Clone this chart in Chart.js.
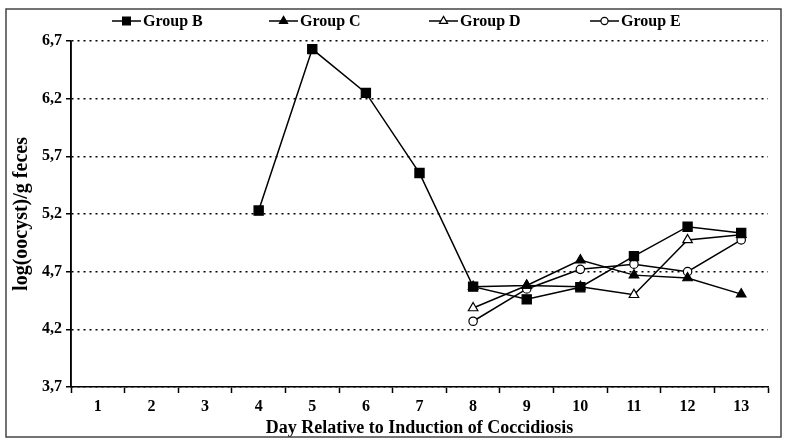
<!DOCTYPE html>
<html>
<head>
<meta charset="utf-8">
<script src="https://cdn.jsdelivr.net/npm/chart.js@4"></script>
<style>
  html, body { margin: 0; padding: 0; background: #fff; }
  #wrap { width: 786px; height: 443px; position: relative; }
</style>
</head>
<body>
<div id="wrap"><canvas id="c" width="786" height="443"></canvas></div>
<script>
const days = ['1','2','3','4','5','6','7','8','9','10','11','12','13'];
const groupB = [null, null, null, 5.23, 6.63, 6.25, 5.555, 4.57, 4.46, 4.565, 4.835, 5.09, 5.035];
const groupC = [null, null, null, null, null, null, null, 4.57, 4.58, 4.80, 4.67, 4.645, 4.505];
const groupD = [null, null, null, null, null, null, null, 4.385, 4.58, 4.57, 4.50, 4.975, 5.02];
const groupE = [null, null, null, null, null, null, null, 4.27, 4.55, 4.72, 4.765, 4.70, 4.975];
const seriesNames = ['Group B', 'Group C', 'Group D', 'Group E'];
const yTicks = [3.7, 4.2, 4.7, 5.2, 5.7, 6.2, 6.7];

const FONT = '"Liberation Serif", "Times New Roman", serif';

const styles = [
  { pointStyle: 'rect', radius: 6.5, fill: '#000' },
  { pointStyle: 'triangle', radius: 5.5, fill: '#000' },
  { pointStyle: 'triangle', radius: 5.5, fill: '#fff' },
  { pointStyle: 'circle', radius: 4.2, fill: '#fff' }
];
const values = [groupB, groupC, groupD, groupE];

const datasets = values.map((v, i) => ({
  label: seriesNames[i],
  data: v,
  borderColor: '#000',
  borderWidth: 1.5,
  pointStyle: styles[i].pointStyle,
  pointRadius: styles[i].radius,
  pointHoverRadius: styles[i].radius,
  pointBackgroundColor: styles[i].fill,
  pointBorderColor: '#000',
  pointBorderWidth: 1.2,
  tension: 0,
  spanGaps: false,
  fill: false
}));

const solidYAxis = {
  id: 'solidYAxis',
  beforeDatasetsDraw(chart) {
    const ctx = chart.ctx;
    const a = chart.chartArea;
    ctx.save();
    ctx.setLineDash([]);
    ctx.strokeStyle = '#000';
    ctx.lineWidth = 1.5;
    ctx.beginPath();
    ctx.moveTo(a.left, a.top);
    ctx.lineTo(a.left, a.bottom);
    ctx.stroke();
    ctx.restore();
  }
};

const frameAndLegend = {
  id: 'frameAndLegend',
  afterDraw(chart) {
    const ctx = chart.ctx;
    ctx.save();
    // outer frame
    ctx.strokeStyle = '#444';
    ctx.lineWidth = 1.5;
    ctx.strokeRect(6, 9, 775, 428);
    // legend
    const starts = [112, 269, 429, 590];
    const ly = 21;
    ctx.font = 'bold 16px ' + FONT;
    ctx.textBaseline = 'middle';
    ctx.textAlign = 'left';
    chart.data.datasets.forEach((ds, i) => {
      const x0 = starts[i];
      ctx.strokeStyle = '#000';
      ctx.lineWidth = 1.5;
      ctx.beginPath();
      ctx.moveTo(x0, ly);
      ctx.lineTo(x0 + 29, ly);
      ctx.stroke();
      ctx.fillStyle = ds.pointBackgroundColor;
      ctx.strokeStyle = '#000';
      ctx.lineWidth = 1.2;
      Chart.helpers.drawPoint(ctx, {
        pointStyle: ds.pointStyle,
        radius: ds.pointRadius * 0.85,
        rotation: 0,
        borderWidth: 1.2
      }, x0 + 14.5, ly);
      ctx.fillStyle = '#000';
      ctx.fillText(ds.label, x0 + 31, ly + 1);
    });
    ctx.restore();
  }
};

new Chart(document.getElementById('c'), {
  type: 'line',
  data: { labels: days, datasets },
  plugins: [solidYAxis, frameAndLegend],
  options: {
    responsive: false,
    animation: false,
    devicePixelRatio: 1,
    layout: { padding: { top: 41, right: 18, bottom: 4, left: 5 } },
    plugins: {
      legend: { display: false },
      tooltip: { enabled: false }
    },
    scales: {
      x: {
        type: 'category',
        offset: true,
        afterFit(s) { s.height = 52; },
        border: { display: true, color: '#000', width: 1.5 },
        grid: {
          offset: true,
          drawOnChartArea: false,
          drawTicks: true,
          tickLength: 6,
          tickColor: '#000',
          tickWidth: 1.5
        },
        ticks: {
          color: '#000',
          font: { family: FONT, size: 16, weight: 'bold' },
          padding: 4,
          maxRotation: 0,
          autoSkip: false
        },
        title: {
          display: true,
          text: 'Day Relative to Induction of Coccidiosis',
          color: '#000',
          font: { family: FONT, size: 18, weight: 'bold' },
          padding: { top: 0, bottom: 0 }
        }
      },
      y: {
        min: 3.7,
        max: 6.7,
        afterFit(s) { s.width = 66; },
        afterBuildTicks(s) { s.ticks = yTicks.map(v => ({ value: v })); },
        border: { display: true, color: '#000', width: 1.5, dash: [2, 4] },
        grid: {
          color: '#000',
          lineWidth: 1.5,
          drawTicks: true,
          tickLength: 5,
          tickBorderDash: [],
          tickColor: '#000',
          tickWidth: 1.5
        },
        ticks: {
          color: '#000',
          font: { family: FONT, size: 16, weight: 'bold' },
          padding: 4,
          callback: (v) => Number(v).toFixed(1).replace('.', ',')
        },
        title: {
          display: true,
          text: 'log(oocyst)/g feces',
          color: '#000',
          font: { family: FONT, size: 20, weight: 'bold' },
          padding: { top: 5, bottom: 0 }
        }
      }
    }
  }
});
</script>
</body>
</html>
